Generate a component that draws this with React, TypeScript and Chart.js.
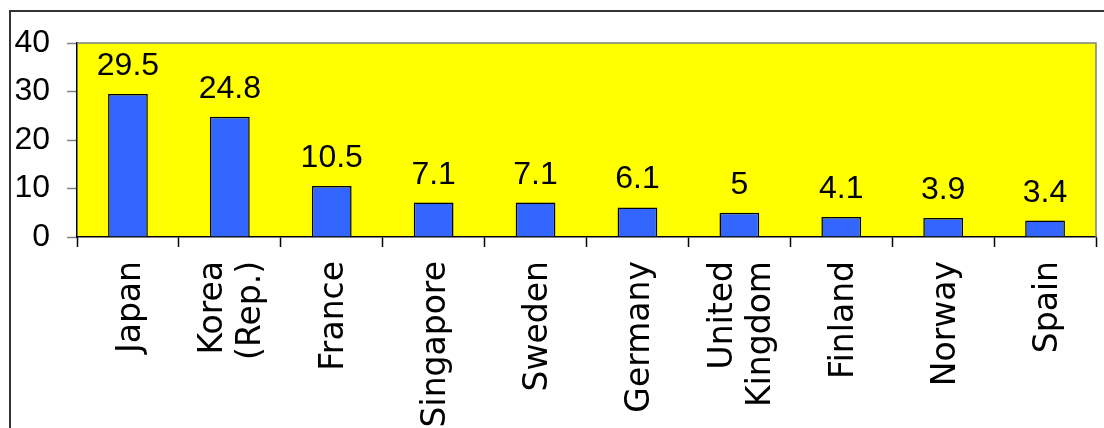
import React, { useEffect, useRef } from "react";
import { Chart, registerables } from "chart.js";

Chart.register(...registerables);

const categories: (string | string[])[] = [
  "Japan",
  ["Korea", "(Rep.)"],
  "France",
  "Singapore",
  "Sweden",
  "Germany",
  ["United", "Kingdom"],
  "Finland",
  "Norway",
  "Spain",
];
const values: number[] = [29.5, 24.8, 10.5, 7.1, 7.1, 6.1, 5, 4.1, 3.9, 3.4];
const yTicks: number[] = [0, 10, 20, 30, 40];

const plotBgPlugin = {
  id: "plotBg",
  beforeDraw(chart: any) {
    const { ctx, chartArea } = chart;
    ctx.save();
    ctx.fillStyle = "#FFFF00";
    ctx.fillRect(chartArea.left, chartArea.top, chartArea.right - chartArea.left, chartArea.bottom - chartArea.top);
    ctx.restore();
  },
  afterDraw(chart: any) {
    const { ctx, chartArea } = chart;
    ctx.save();
    ctx.strokeStyle = "#808080";
    ctx.lineWidth = 1.5;
    ctx.beginPath();
    ctx.moveTo(chartArea.left, chartArea.top);
    ctx.lineTo(chartArea.right, chartArea.top);
    ctx.lineTo(chartArea.right, chartArea.bottom);
    ctx.stroke();
    ctx.restore();
  },
};

const valueLabelPlugin = {
  id: "valueLabels",
  afterDatasetsDraw(chart: any) {
    const { ctx } = chart;
    const meta = chart.getDatasetMeta(0);
    ctx.save();
    ctx.fillStyle = "#000";
    ctx.font = "32px 'Liberation Sans', Arial, sans-serif";
    ctx.textAlign = "center";
    ctx.textBaseline = "alphabetic";
    meta.data.forEach((el: any, i: number) => {
      ctx.fillText(String(values[i]), el.x, el.y - 19);
    });
    ctx.restore();
  },
};

const xLabelPlugin = {
  id: "xLabels",
  afterDraw(chart: any) {
    const { ctx } = chart;
    const scale = chart.scales.x;
    const lineH = 38;
    ctx.save();
    ctx.fillStyle = "#000";
    ctx.font = "33px 'DejaVu Sans', sans-serif";
    ctx.textAlign = "right";
    ctx.textBaseline = "middle";
    categories.forEach((lab, i) => {
      const lines = Array.isArray(lab) ? lab : [lab];
      const x = scale.getPixelForValue(i);
      const y = scale.top + 24;
      ctx.save();
      ctx.translate(x, y);
      ctx.rotate(-Math.PI / 2);
      lines.forEach((ln, j) => {
        ctx.fillText(ln, 0, (j - (lines.length - 1) / 2) * lineH + 3);
      });
      ctx.restore();
    });
    ctx.restore();
  },
};

export default function App() {
  const ref = useRef<HTMLCanvasElement | null>(null);
  useEffect(() => {
    document.body.style.margin = "0";
    if (!ref.current) return;
    const chart = new Chart(ref.current, {
      type: "bar",
      data: {
        labels: categories as any,
        datasets: [
          {
            data: values,
            backgroundColor: "#3366FF",
            borderColor: "#000000",
            borderWidth: 1.5,
            barPercentage: 0.39,
            categoryPercentage: 1.0,
          },
        ],
      },
      options: {
        responsive: false,
        animation: false,
        devicePixelRatio: 1,
        layout: { padding: { top: 43, right: 8, left: 0, bottom: 0 } },
        plugins: { legend: { display: false }, tooltip: { enabled: false } },
        scales: {
          x: {
            offset: true,
            grid: {
              offset: true,
              drawOnChartArea: false,
              drawTicks: true,
              tickLength: 10,
              tickColor: "#000",
              tickWidth: 1.5,
            },
            border: { color: "#000", width: 1.5 },
            ticks: { display: false },
            afterFit(scale: any) {
              scale.height = 191;
            },
          },
          y: {
            min: 0,
            max: 40,
            afterBuildTicks(scale: any) {
              scale.ticks = yTicks.map((v) => ({ value: v }));
            },
            grid: {
              drawOnChartArea: false,
              drawTicks: true,
              tickLength: 10,
              tickColor: "#808080",
              tickWidth: 1.5,
            },
            border: { color: "#000", width: 1.5 },
            ticks: {
              padding: 17,
              color: "#000",
              font: { family: "'Liberation Sans'", size: 32 },
            },
            afterFit(scale: any) {
              scale.width = 77;
            },
          },
        },
      },
      plugins: [plotBgPlugin, valueLabelPlugin, xLabelPlugin],
    });
    return () => chart.destroy();
  }, []);

  return (
    <div style={{ position: "relative", width: 1104, height: 428, overflow: "hidden", background: "#fff" }}>
      <canvas ref={ref} width={1104} height={428} style={{ width: 1104, height: 428, display: "block" }} />
      <div
        style={{
          position: "absolute",
          left: 9,
          top: 10,
          width: 1200,
          height: 600,
          borderLeft: "2px solid #333",
          borderTop: "2px solid #333",
          pointerEvents: "none",
        }}
      />
    </div>
  );
}
